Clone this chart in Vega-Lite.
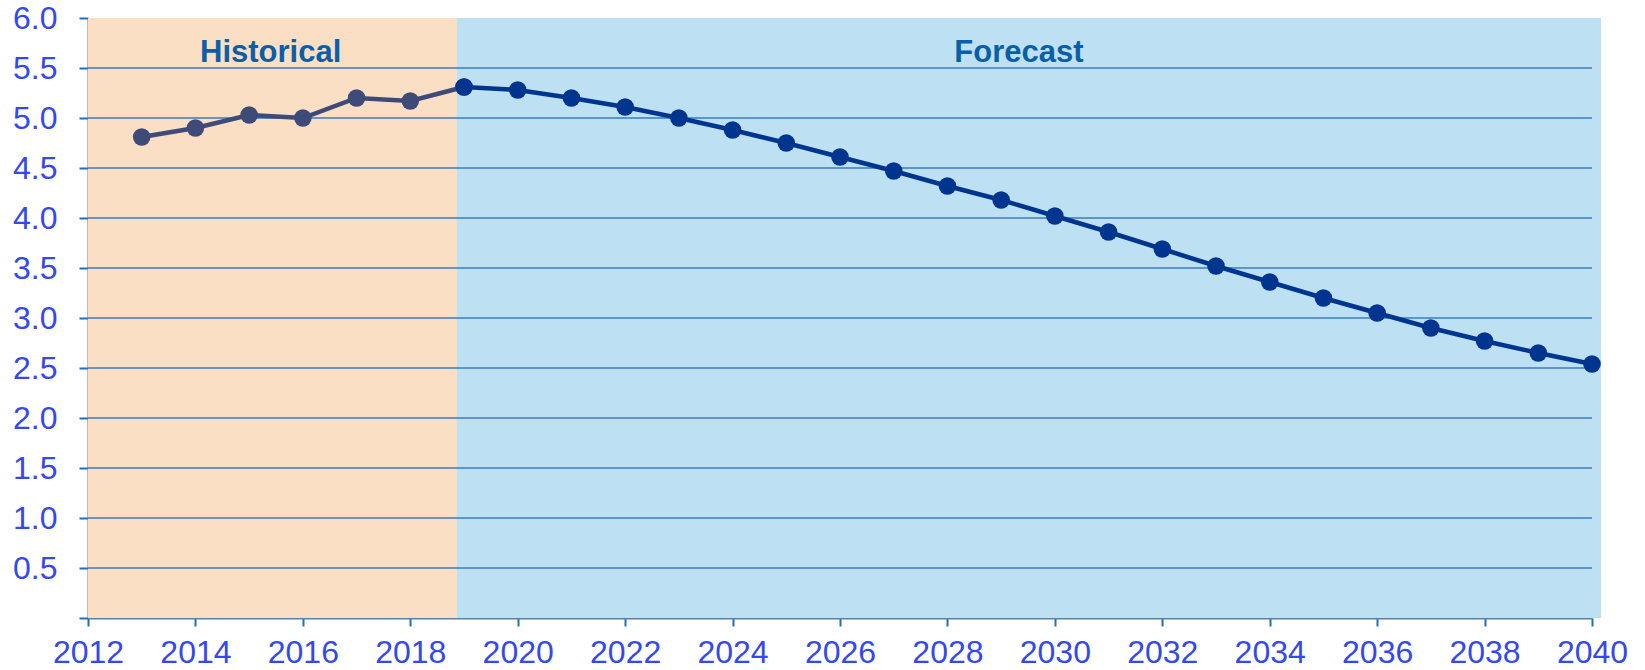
{
  "$schema": "https://vega.github.io/schema/vega-lite/v6.json",
  "width": 1504,
  "height": 600,
  "autosize": {"type": "none"},
  "padding": {"left": 88, "top": 18, "right": 53, "bottom": 52},
  "config": {"view": {"stroke": null}, "font": "Liberation Sans"},
  "datasets": {
    "periods": [
      {"period": "Historical", "start": 2012, "end": 2018.87},
      {"period": "Forecast", "start": 2018.87, "end": 2040.17}
    ],
    "labels": [
      {"period": "Historical", "mid": 2015.4},
      {"period": "Forecast", "mid": 2029.33}
    ],
    "grid": [
      {"v": 0.5}, {"v": 1.0}, {"v": 1.5}, {"v": 2.0}, {"v": 2.5}, {"v": 3.0},
      {"v": 3.5}, {"v": 4.0}, {"v": 4.5}, {"v": 5.0}, {"v": 5.5}
    ],
    "series": [
      {"year": 2013, "value": 4.81, "series": "Historical"},
      {"year": 2014, "value": 4.90, "series": "Historical"},
      {"year": 2015, "value": 5.03, "series": "Historical"},
      {"year": 2016, "value": 5.00, "series": "Historical"},
      {"year": 2017, "value": 5.20, "series": "Historical"},
      {"year": 2018, "value": 5.17, "series": "Historical"},
      {"year": 2019, "value": 5.31, "series": "Historical"},
      {"year": 2019, "value": 5.31, "series": "Forecast"},
      {"year": 2020, "value": 5.28, "series": "Forecast"},
      {"year": 2021, "value": 5.20, "series": "Forecast"},
      {"year": 2022, "value": 5.11, "series": "Forecast"},
      {"year": 2023, "value": 5.00, "series": "Forecast"},
      {"year": 2024, "value": 4.88, "series": "Forecast"},
      {"year": 2025, "value": 4.75, "series": "Forecast"},
      {"year": 2026, "value": 4.61, "series": "Forecast"},
      {"year": 2027, "value": 4.47, "series": "Forecast"},
      {"year": 2028, "value": 4.32, "series": "Forecast"},
      {"year": 2029, "value": 4.18, "series": "Forecast"},
      {"year": 2030, "value": 4.02, "series": "Forecast"},
      {"year": 2031, "value": 3.86, "series": "Forecast"},
      {"year": 2032, "value": 3.69, "series": "Forecast"},
      {"year": 2033, "value": 3.52, "series": "Forecast"},
      {"year": 2034, "value": 3.36, "series": "Forecast"},
      {"year": 2035, "value": 3.20, "series": "Forecast"},
      {"year": 2036, "value": 3.05, "series": "Forecast"},
      {"year": 2037, "value": 2.90, "series": "Forecast"},
      {"year": 2038, "value": 2.77, "series": "Forecast"},
      {"year": 2039, "value": 2.65, "series": "Forecast"},
      {"year": 2040, "value": 2.54, "series": "Forecast"}
    ]
  },
  "layer": [
    {
      "data": {"name": "periods"},
      "mark": {"type": "rect"},
      "encoding": {
        "x": {
          "field": "start", "type": "quantitative",
          "scale": {"domain": [2012, 2040], "nice": false, "zero": false},
          "axis": {
            "title": null,
            "values": [2012, 2014, 2016, 2018, 2020, 2022, 2024, 2026, 2028, 2030, 2032, 2034, 2036, 2038, 2040],
            "format": "d",
            "labelFontSize": 32,
            "labelColor": "#3348f0",
            "labelPadding": 11,
            "labelFlush": false,
            "labelOverlap": false,
            "domainColor": "#5a80a8",
            "domainWidth": 2,
            "tickColor": "#1f6fbf",
            "tickWidth": 2,
            "tickSize": 8,
            "grid": false
          }
        },
        "x2": {"field": "end"},
        "fill": {
          "field": "period", "type": "nominal",
          "scale": {"domain": ["Historical", "Forecast"], "range": ["#fadfc4", "#bde1f3"]},
          "legend": null
        }
      }
    },
    {
      "data": {"name": "grid"},
      "mark": {"type": "rule", "color": "#3a7cc0", "strokeWidth": 1.3},
      "encoding": {
        "y": {
          "field": "v", "type": "quantitative",
          "scale": {"domain": [0, 6], "nice": false, "zero": true},
          "axis": {
            "title": null,
            "values": [0, 0.5, 1, 1.5, 2, 2.5, 3, 3.5, 4, 4.5, 5, 5.5, 6],
            "labelExpr": "datum.value == 0 ? '' : format(datum.value, '.1f')",
            "labelFontSize": 32,
            "labelColor": "#3348f0",
            "labelPadding": 22,
            "domainColor": "#5a80a8",
            "domainWidth": 2,
            "tickColor": "#1f6fbf",
            "tickWidth": 2,
            "tickSize": 9,
            "grid": false
          }
        }
      }
    },
    {
      "data": {"name": "series"},
      "mark": {"type": "line", "strokeWidth": 4.5},
      "encoding": {
        "x": {"field": "year", "type": "quantitative"},
        "y": {"field": "value", "type": "quantitative"},
        "detail": {"field": "series"},
        "color": {
          "field": "series", "type": "nominal",
          "scale": {"domain": ["Historical", "Forecast"], "range": ["#3e4a78", "#00358f"]},
          "legend": null
        }
      }
    },
    {
      "data": {"name": "series"},
      "mark": {"type": "point", "filled": true, "opacity": 1, "size": 310},
      "encoding": {
        "x": {"field": "year", "type": "quantitative"},
        "y": {"field": "value", "type": "quantitative"},
        "color": {
          "field": "series", "type": "nominal",
          "scale": {"domain": ["Historical", "Forecast"], "range": ["#3e4a78", "#00358f"]},
          "legend": null
        }
      }
    },
    {
      "data": {"name": "labels"},
      "mark": {"type": "text", "fontSize": 31, "fontWeight": "bold", "color": "#0b5ea8", "baseline": "alphabetic", "align": "center"},
      "encoding": {
        "x": {"field": "mid", "type": "quantitative"},
        "y": {"datum": 5.56},
        "text": {"field": "period"}
      }
    }
  ]
}
